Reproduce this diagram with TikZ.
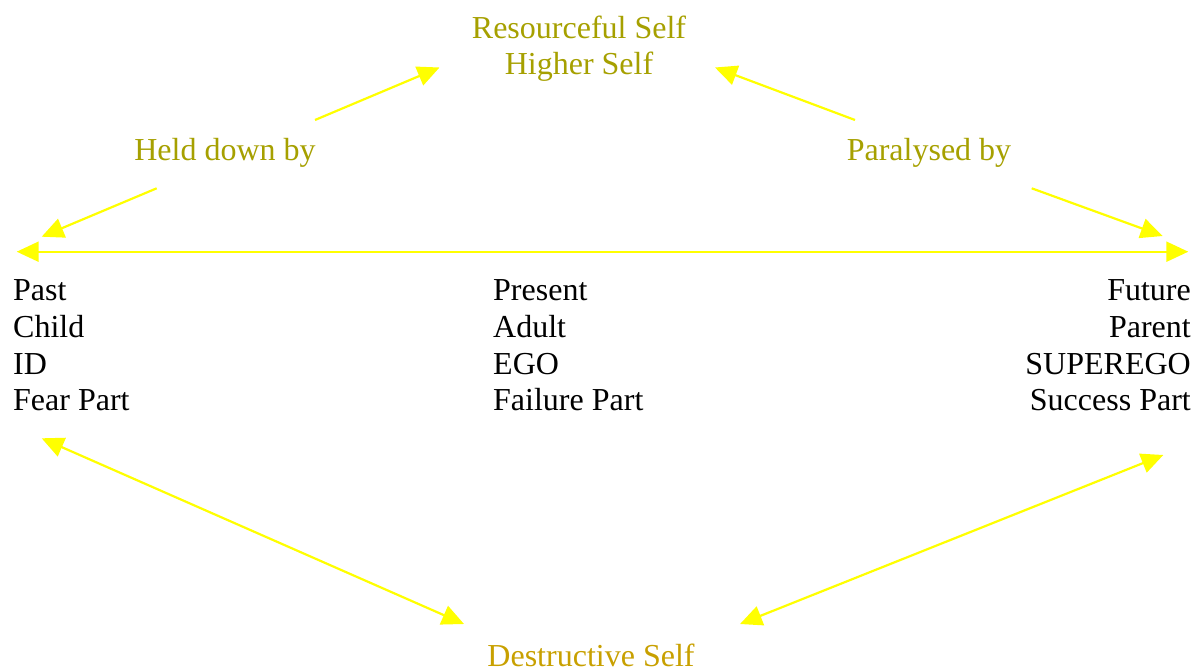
\documentclass[tikz,border=0pt]{standalone}
\usepackage{fontspec}
\setmainfont{Liberation Serif}
\usetikzlibrary{arrows.meta}
\definecolor{olivelab}{RGB}{166,160,0}
\definecolor{goldlab}{RGB}{200,160,0}
\definecolor{arrowyellow}{RGB}{255,255,0}
\tikzset{
  lab/.style={inner sep=0pt, font=\fontsize{32}{37}\selectfont},
  toplab/.style={lab, text=olivelab},
  botlab/.style={lab, text=goldlab},
  col/.style={lab, text=black},
  conn/.style={draw=arrowyellow, line width=2.2pt, -{Triangle[length=22pt,width=20pt]}},
  dconn/.style={draw=arrowyellow, line width=2.2pt, {Triangle[length=22pt,width=20pt]}-{Triangle[length=22pt,width=20pt]}}
}
\begin{document}
\begin{tikzpicture}[x=1pt,y=-1pt]
\useasboundingbox (0,0) rectangle (1204,671);
% top labels
\node[toplab, anchor=base] (res) at (579,38.5) {Resourceful Self};
\node[toplab, anchor=base] (higher) at (579,75) {Higher Self};
\node[toplab, anchor=base] (held) at (225,161) {Held down by};
\node[toplab, anchor=base] (para) at (929,161) {Paralysed by};
\node[botlab, anchor=base] (destr) at (591,666) {Destructive Self};
% left column
\node[col, anchor=base west] (past) at (13,300.5) {Past};
\node[col, anchor=base west] (child) at (13,337.3) {Child};
\node[col, anchor=base west] (id) at (13,374) {ID};
\node[col, anchor=base west] (fear) at (13,410.5) {Fear Part};
% middle column
\node[col, anchor=base west] (present) at (493,300.5) {Present};
\node[col, anchor=base west] (adult) at (493,337.3) {Adult};
\node[col, anchor=base west] (ego) at (493,374) {EGO};
\node[col, anchor=base west] (failure) at (493,410.5) {Failure Part};
% right column
\node[col, anchor=base east] (future) at (1191,300.5) {Future};
\node[col, anchor=base east] (parent) at (1191,337.3) {Parent};
\node[col, anchor=base east] (superego) at (1191,374) {SUPEREGO};
\node[col, anchor=base east] (success) at (1191,410.5) {Success Part};
% connector end points
\coordinate (a1s) at (315,120);
\coordinate (a1e) at (439.5,67.5);
\coordinate (a2s) at (855,120);
\coordinate (a2e) at (715,67.5);
\coordinate (a3s) at (156.7,188.3);
\coordinate (a3e) at (41.7,236.7);
\coordinate (a4s) at (1031.7,188.3);
\coordinate (a4e) at (1162.7,236);
\coordinate (hl) at (16.7,251.7);
\coordinate (hr) at (1188.3,251.7);
\coordinate (bl1) at (41.7,438.3);
\coordinate (bl2) at (464,624);
\coordinate (br1) at (1163.3,455);
\coordinate (br2) at (740,624);
% connectors
\draw[conn] (a1s) -- (a1e);
\draw[conn] (a2s) -- (a2e);
\draw[conn] (a3s) -- (a3e);
\draw[conn] (a4s) -- (a4e);
\draw[dconn] (hl) -- (hr);
\draw[dconn] (bl1) -- (bl2);
\draw[dconn] (br1) -- (br2);
\end{tikzpicture}
\end{document}
